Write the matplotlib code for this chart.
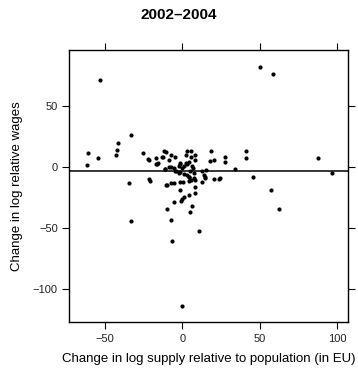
import matplotlib
matplotlib.use("Agg")
import matplotlib.pyplot as plt

plt.rcParams['font.family'] = ['Liberation Sans', 'DejaVu Sans']

title = "2002\u20132004"
xlabel = "Change in log supply relative to population (in EU)"
ylabel = "Change in log relative wages"
xticks = [-50, 0, 50, 100]
yticks = [50, 0, -50, -100]
hline_y = -3.3

x_vals = [
    -52.9, 50.3, 58.3, -33.5, -41.9, -42.1, -43.0, -61.1, -61.7, -54.2,
    -25.6, -22.1, -16.8, -11.6, -10.3, -12.9, -7.7, -4.5, -8.6, -17.0,
    -15.9, -8.4, -11.4, 3.2, 5.4, 7.9, 5.2, 8.4, 4.1, 18.5,
    17.8, 20.6, 27.3, 27.5, 33.7, 41.1, 41.1, 87.5, 96.3, 12.7,
    15.5, 14.4, 14.4, 20.6, 24.5, 45.4, -21.3, -4.5, -2.4, 4.1,
    7.3, -34.8, -21.1, -10.8, -7.5, -5.2, -1.9, 0.6, 4.3, 5.6,
    7.9, 4.5, 7.9, 12.7, 23.7, -1.3, 7.9, 3.9, 0.8, -0.2,
    -1.1, -5.2, -9.9, 6.3, 5.0, 57.4, 62.6, -33.1, -7.7, 10.8,
    -6.9, -0.6, -21.7, -16.3, -12.5, -1.3, -11.0, -7.7, 13.8, 2.1,
    1.3, 3.0, 6.3, 6.9, -1.3, -2.4, 0.0, -5.6, -3.9, 4.7,
    7.3, 3.0, -1.7, -9.9, 1.0, 2.5,
]
y_vals = [
    71.4, 82.4, 76.6, 26.4, 19.5, 14.0, 9.9, 11.8, 1.4, 7.7,
    11.8, 6.6, 7.4, 13.7, 12.4, 8.2, 9.6, 8.2, 5.8, 2.2,
    3.5, 0.3, -1.4, 13.2, 13.2, 10.4, 8.0, 6.3, 4.4, 13.4,
    5.2, 5.5, 8.5, 3.9, -1.6, 13.4, 7.7, 7.4, -4.4, -3.0,
    -2.5, -7.7, -8.8, -9.9, -9.1, -8.2, -10.1, -3.3, -4.7, -8.0,
    -9.3, -12.9, -11.0, -15.0, -12.9, -13.2, -12.4, -12.1, -11.3, -10.7,
    -10.7, -8.5, -16.5, -12.1, -9.7, -18.7, -21.2, -23.3, -24.5, -25.8,
    -28.0, -28.8, -34.8, -32.1, -37.1, -19.2, -34.6, -44.5, -43.7, -52.7,
    -60.4, -113.9, 6.3, 3.0, 8.5, 3.5, -1.9, 0.2, -6.6, 3.5,
    0.8, 2.5, 0.8, -1.1, 3.0, 0.8, -1.1, -1.1, -3.0, -3.0,
    -5.2, -6.6, -3.9, -14.8, -5.5, 10.0,
]

fig = plt.figure(figsize=(3.58, 3.69), dpi=100)
ax = fig.add_axes([69/358, 1-322/369, (348-69)/358, (322-50)/369])

ax.scatter(x_vals, y_vals, s=9, c='black', linewidths=0, zorder=3)
ax.axhline(hline_y, color='black', lw=1.1, zorder=2)

ax.set_xlim(-73.2, 106.8)
ax.set_ylim(-127.4, 96.4)
ax.set_xticks(xticks)
ax.set_yticks(yticks)
ax.set_xticklabels(["\u221250", "0", "50", "100"])
ax.set_yticklabels(["50", "0", "\u221250", "\u2212100"])
ax.tick_params(direction='out', length=5, width=0.8, labelsize=8, colors='black',
               top=True, right=True, labeltop=False, labelright=False, pad=3,
               labelcolor='#222222')
ax.tick_params(axis='x', pad=4)
for sp in ax.spines.values():
    sp.set_linewidth(1.0)
    sp.set_color('black')

fig.text(0.5, 1-15/369, title, ha='center', va='center', fontsize=11, fontweight='bold')
ax.set_xlabel(xlabel, fontsize=9.5, labelpad=6)
ax.set_ylabel(ylabel, fontsize=9.5, labelpad=7)

fig.savefig("out.png", dpi=100)
